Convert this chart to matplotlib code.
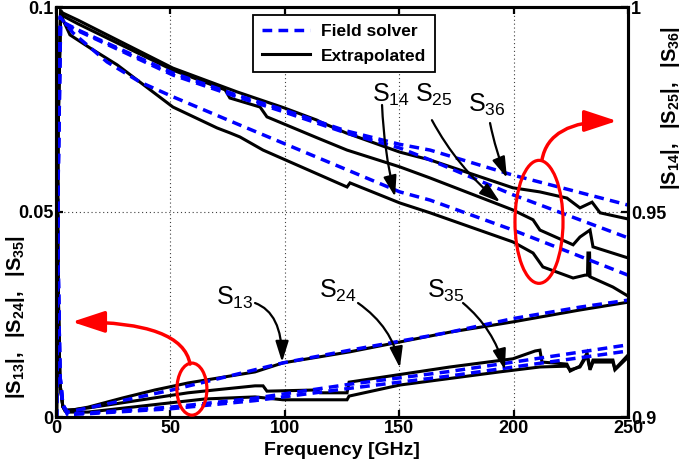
import matplotlib
matplotlib.use('Agg')
import matplotlib.pyplot as plt
from matplotlib.patches import Ellipse

plt.rcParams['font.family'] = ['Liberation Sans', 'DejaVu Sans']
plt.rcParams['mathtext.fontset'] = 'custom'
plt.rcParams['mathtext.rm'] = 'Liberation Sans'
plt.rcParams['mathtext.it'] = 'Liberation Sans:italic'
plt.rcParams['mathtext.bf'] = 'Liberation Sans:bold'

# ---------------- data: transmission (right axis) ----------------
f_s36_fs = [0, 1.0, 2.0, 3.1, 9.6, 51.1, 79.1, 99.7, 126.7, 150.3, 163.5, 199.7, 250]
s36_fs = [0.880, 0.960, 0.9955, 0.9963, 0.9944, 0.9839, 0.9785, 0.9749, 0.9698, 0.9665, 0.9651, 0.9590, 0.9517]

f_s36_ex = [0, 0.9, 2.0, 3.1, 9.6, 51.1, 79.1, 99.7, 114.1, 115.4, 126.7, 150.3, 163.5, 199.7,
            211.5, 223.3, 229.0, 234.3, 237.8, 250]
s36_ex = [0.870, 0.970, 0.9990, 0.9985, 0.9968, 0.9851, 0.9793, 0.9754, 0.9724, 0.9720, 0.9693, 0.9646,
          0.9627, 0.9559, 0.9549, 0.9534, 0.9510, 0.9524, 0.9498, 0.9483]

f_s25_fs = [0, 1.0, 2.0, 3.1, 9.6, 51.1, 79.1, 99.7, 126.7, 150.3, 163.5, 199.7, 250]
s25_fs = [0.880, 0.960, 0.9953, 0.9961, 0.9942, 0.9834, 0.9781, 0.9744, 0.9693, 0.9656, 0.9627, 0.9542, 0.9437]

f_s25_ex = [0, 0.9, 2.0, 3.1, 9.6, 51.1, 73.9, 76.0, 89.2, 92.2, 114.1, 127.2, 150.3, 163.5, 199.7,
            208.5, 211.5, 226.0, 229.0, 233.4, 234.7, 250]
s25_ex = [0.870, 0.970, 0.9993, 0.9978, 0.9959, 0.9846, 0.9798, 0.9778, 0.9756, 0.9732, 0.9681, 0.9651,
          0.9610, 0.9583, 0.9505, 0.9481, 0.9456, 0.9420, 0.9439, 0.9456, 0.9415, 0.9388]

f_s14_fs = [0, 1.0, 1.75, 7.4, 22.3, 36.7, 51.1, 79.1, 150.3, 163.5, 199.7, 250]
s14_fs = [0.880, 0.960, 0.9976, 0.9937, 0.9866, 0.9817, 0.9781, 0.9715, 0.9549, 0.9529, 0.9456, 0.9346]

f_s14_ex = [0, 0.9, 2.0, 3.1, 6.1, 14.9, 26.7, 51.1, 70.4, 76.0, 80.4, 90.5, 127.2, 128.5, 150.3, 163.5,
            199.7, 208.5, 212.8, 226.0, 231.2, 232.3, 232.5, 233.2, 233.4, 243.4, 250]
s14_ex = [0.870, 0.970, 0.9985, 0.9968, 0.9932, 0.9900, 0.9859, 0.9756, 0.9705, 0.9693, 0.9683, 0.9651,
          0.9561, 0.9571, 0.9522, 0.9498, 0.9427, 0.9400, 0.9366, 0.9339, 0.9346, 0.9346, 0.9400, 0.9400,
          0.9342, 0.9317, 0.9295]

# ---------------- data: coupling (left axis) ----------------
f_s13_ex = [0, 0.5, 1.0, 1.75, 3.0, 3.9, 8.0, 14.0, 28.8, 43.3, 57.7, 87.0, 99.2, 128.5, 150.3, 172.2,
            199.7, 229.0, 250]
s13_ex = [0.1, 0.06, 0.03, 0.008, 0.0025, 0.0017, 0.0018, 0.0024, 0.0046, 0.0066, 0.0083, 0.0110, 0.0132,
          0.0159, 0.0183, 0.0207, 0.0232, 0.0261, 0.0280]

f_s13_fs = [0, 0.5, 1.0, 1.75, 3.0, 5.0, 14.0, 50.7, 79.5, 99.2, 128.5, 172.2, 199.7, 229.0, 250]
s13_fs = [0.1, 0.065, 0.035, 0.01, 0.003, 0.0012, 0.0022, 0.0066, 0.0105, 0.0132, 0.0163, 0.0207, 0.0240,
          0.0268, 0.0285]

f_s24_ex = [0, 0.5, 1.0, 1.75, 3.0, 3.9, 14.0, 57.7, 69.5, 87.0, 90.5, 92.2, 114.1, 115.4, 127.2, 128.1,
            172.2, 199.7, 209.4, 211.5, 212.4, 223.3, 224.7, 229.0, 232.1, 233.4, 234.7, 243.4, 244.3, 250]
s24_ex = [0.1, 0.06, 0.03, 0.008, 0.0025, 0.0015, 0.0022, 0.0059, 0.0066, 0.0076, 0.0076, 0.0063, 0.0066,
          0.0059, 0.0059, 0.0085, 0.0122, 0.0142, 0.0161, 0.0163, 0.0134, 0.0129, 0.0112, 0.0124, 0.0156,
          0.0117, 0.0139, 0.0139, 0.0117, 0.0151]

f_s35_ex = [0, 0.5, 1.0, 1.75, 3.0, 4.5, 14.0, 65.1, 87.0, 99.2, 127.2, 128.1, 150.3, 193.9, 211.5, 223.3,
            224.7, 229.0, 232.1, 233.4, 234.7, 243.4, 244.3, 250]
s35_ex = [0.1, 0.06, 0.03, 0.008, 0.0025, 0.0012, 0.0012, 0.0044, 0.0049, 0.0042, 0.0042, 0.0051, 0.0078,
          0.0110, 0.0122, 0.0124, 0.0115, 0.0122, 0.0150, 0.0115, 0.0134, 0.0134, 0.0115, 0.0146]

f_low_fs = [0, 0.5, 1.0, 1.75, 3.0, 5.0, 14, 50, 87, 128.5, 172, 200, 250]
s24_fs = [0.1, 0.065, 0.035, 0.01, 0.003, 0.0008, 0.0010, 0.0024, 0.0046, 0.0080, 0.0111, 0.0134, 0.0176]
s35_fs = [0.1, 0.065, 0.035, 0.01, 0.003, 0.0006, 0.0008, 0.0020, 0.0040, 0.0070, 0.0100, 0.0122, 0.0161]

x_ticks = [0, 50, 100, 150, 200, 250]
yl_ticks = [0, 0.05, 0.1]
yr_ticks = [0.9, 0.95, 1]

# ---------------- style ----------------
BLUE = '#0000ff'
LW_EX = 2.2
LW_FS = 2.5
DASH = (2.8, 1.8)
TICKFS = 13

fig = plt.figure(figsize=(6.82, 4.66), dpi=100)
ax = fig.add_axes([56 / 682, 49 / 466, 572 / 682, 410 / 466])
ax2 = ax.twinx()

# lower group (left axis)
for fx, vy in [(f_s13_ex, s13_ex), (f_s24_ex, s24_ex), (f_s35_ex, s35_ex)]:
    ax.plot(fx, vy, color='k', lw=LW_EX, solid_joinstyle='miter')
for fx, vy in [(f_s13_fs, s13_fs), (f_low_fs, s24_fs), (f_low_fs, s35_fs)]:
    ax.plot(fx, vy, color=BLUE, lw=LW_FS, dashes=DASH)

# upper group (right axis)
h_ex = None
for fx, vy in [(f_s36_ex, s36_ex), (f_s25_ex, s25_ex), (f_s14_ex, s14_ex)]:
    l, = ax2.plot(fx, vy, color='k', lw=LW_EX, solid_joinstyle='miter')
    h_ex = h_ex or l
h_fs = None
for fx, vy in [(f_s36_fs, s36_fs), (f_s25_fs, s25_fs), (f_s14_fs, s14_fs)]:
    l, = ax2.plot(fx, vy, color=BLUE, lw=LW_FS, dashes=DASH)
    h_fs = h_fs or l

ax.set_xlim(0, 250)
ax.set_ylim(0, 0.1)
ax2.set_ylim(0.9, 1.0)
ax.set_xticks(x_ticks)
ax.set_xticklabels([str(t) for t in x_ticks])
ax.set_yticks(yl_ticks)
ax.set_yticklabels(['0', '0.05', '0.1'])
ax2.set_yticks(yr_ticks)
ax2.set_yticklabels(['0.9', '0.95', '1'])

for a in (ax, ax2):
    for s in a.spines.values():
        s.set_linewidth(2.2)
ax.tick_params(axis='x', direction='in', length=5, width=1.6, top=True, pad=2)
ax.tick_params(axis='y', direction='in', length=5, width=1.6, right=False, pad=2)
ax2.tick_params(axis='y', direction='in', length=5, width=1.6, pad=2)
for lab in ax.get_xticklabels() + ax.get_yticklabels() + ax2.get_yticklabels():
    lab.set_fontsize(TICKFS)
    lab.set_fontweight('bold')

ax.xaxis.grid(True, color='0.25', linestyle=(0, (1, 2.5)), linewidth=0.8)
ax.set_axisbelow(True)
ax.axhline(0.05, color='0.25', linestyle=(0, (1, 2.5)), linewidth=0.8, zorder=0.5)

ax.set_xlabel('Frequency [GHz]', fontsize=14, fontweight='bold', labelpad=4)

fig.text(16 / 682, 1 - 317 / 466, r'$\mathbf{|S_{13}|,\ \ |S_{24}|,\ \ |S_{35}|}$',
         rotation=90, ha='center', va='center', fontsize=14.5)
fig.text(671 / 682, 1 - 108 / 466, r'$\mathbf{|S_{14}|,\ \ |S_{25}|,\ \ |S_{36}|}$',
         rotation=90, ha='center', va='center', fontsize=14.5)

leg = ax2.legend([h_fs, h_ex], ['Field solver', 'Extrapolated'], loc='upper left',
                 bbox_to_anchor=(253 / 682, 1 - 15 / 466), bbox_transform=fig.transFigure,
                 borderaxespad=0, fancybox=False, framealpha=1, edgecolor='k',
                 prop={'weight': 'bold', 'size': 12.5}, handlelength=2.8, labelspacing=0.55,
                 borderpad=0.5, handletextpad=0.6)
leg.get_frame().set_linewidth(1.3)
leg.set_zorder(20)

# ---------------- annotations (in right-axis data coordinates) ----------------
def label(x, y, sub):
    ax2.text(x, y, r'$\mathrm{S}_{%s}$' % sub, fontsize=18, ha='left', va='baseline', zorder=15)

def arrow(xy_from, xy_to, cs):
    ax2.annotate('', xy=xy_to, xytext=xy_from, zorder=15,
                 arrowprops=dict(arrowstyle='-|>,head_length=0.7,head_width=0.22', color='k', lw=1.6,
                                 shrinkA=0, shrinkB=0, mutation_scale=18, connectionstyle=cs))

label(138.1, 0.97683, '14')
label(157.0, 0.97683, '25')
label(180.0, 0.97439, '36')
label(69.9, 0.92732, '13')
label(114.9, 0.92902, '24')
label(162.1, 0.92902, '35')

arrow((142.5, 0.9761), (148.2, 0.9537), 'arc3,rad=0.05')
arrow((164.3, 0.9724), (194.1, 0.9524), 'arc3,rad=0.1')
arrow((189.7, 0.9717), (197.1, 0.9583), 'arc3,rad=0.05')
arrow((87.0, 0.9278), (98.8, 0.9134), 'angle3,angleA=-20,angleB=90')
arrow((132.0, 0.9278), (150.3, 0.9120), 'angle3,angleA=-35,angleB=-80')
arrow((177.9, 0.9278), (196.2, 0.91146), 'angle3,angleA=-40,angleB=-75')

RED = '#ff0000'
ax2.add_patch(Ellipse((211.1, 0.9476), 21.0, 0.0300, fill=False, ec=RED, lw=2.3, zorder=16))
ax2.add_patch(Ellipse((59.4, 0.9068), 13.1, 0.0127, fill=False, ec=RED, lw=2.3, zorder=16))
ax2.annotate('', xy=(245.2, 0.9722), xytext=(212.4, 0.9627), zorder=16,
             arrowprops=dict(arrowstyle='-|>,head_length=1.0,head_width=0.33', color=RED, lw=2.5,
                             shrinkA=0, shrinkB=0, mutation_scale=20,
                             connectionstyle='angle3,angleA=80,angleB=0'))
ax2.annotate('', xy=(7.0, 0.9232), xytext=(58.6, 0.9129), zorder=16,
             arrowprops=dict(arrowstyle='-|>,head_length=1.0,head_width=0.33', color=RED, lw=2.5,
                             shrinkA=0, shrinkB=0, mutation_scale=20,
                             connectionstyle='angle3,angleA=100,angleB=0'))

fig.savefig('out.png', dpi=100)
